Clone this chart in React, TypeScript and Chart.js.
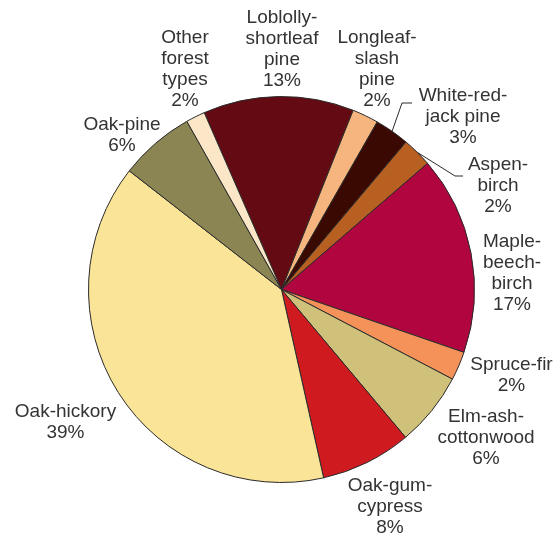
import React, { useEffect, useRef } from "react";
import { Chart, registerables } from "chart.js";

Chart.register(...registerables);

const categories: string[][] = [
  ["Loblolly-", "shortleaf", "pine"],
  ["Longleaf-", "slash", "pine"],
  ["White-red-", "jack pine"],
  ["Aspen-", "birch"],
  ["Maple-", "beech-", "birch"],
  ["Spruce-fir"],
  ["Elm-ash-", "cottonwood"],
  ["Oak-gum-", "cypress"],
  ["Oak-hickory"],
  ["Oak-pine"],
  ["Other", "forest", "types"],
];
const shares: number[] = [12.6, 2.2, 2.9, 2.5, 16.6, 2.4, 6.2, 7.6, 39.0, 6.3, 1.6];
const pctLabels: string[] = ["13%", "2%", "3%", "2%", "17%", "2%", "6%", "8%", "39%", "6%", "2%"];

const colors = [
  "#630a12",
  "#f6b47e",
  "#3a0a02",
  "#b85f22",
  "#b0053e",
  "#f4925a",
  "#cfc07a",
  "#cf1a20",
  "#fae498",
  "#8b8453",
  "#fbe6c7",
];

// label block placement relative to pie centre (first line centre)
const labelOffsets: [number, number][] = [
  [0.5, -271.5],
  [95.5, -252],
  [181.5, -194],
  [216.5, -124.5],
  [230.5, -47.5],
  [230, -124.5 + 200],
  [204.5, 127],
  [108.5, 196.5],
  [-216, 122],
  [-159.5, -164.5],
  [-96.5, -251.5],
];
// leader lines: index -> [elbow dx, elbow dy, end dx, end dy] relative to centre
const leaders: Record<number, [number, number, number, number]> = {
  2: [120.5, -186.5, 130.5, -186.5],
  3: [173.5, -113.5, 181.5, -113.5],
};

const labelPlugin = {
  id: "pieLabels",
  afterDraw(chart: any) {
    const meta = chart.getDatasetMeta(0);
    const ctx = chart.ctx as CanvasRenderingContext2D;
    ctx.save();
    ctx.font = "19px 'Liberation Sans', Arial, sans-serif";
    ctx.fillStyle = "#333333";
    ctx.textAlign = "center";
    ctx.textBaseline = "middle";
    const lh = 21;
    meta.data.forEach((arc: any, i: number) => {
      const cx = arc.x;
      const cy = arc.y;
      const lines = [...categories[i], pctLabels[i]];
      const [dx, dy] = labelOffsets[i];
      lines.forEach((t, k) => ctx.fillText(t, cx + dx, cy + dy + k * lh));
      const ld = leaders[i];
      if (ld) {
        const mid = (arc.startAngle + arc.endAngle) / 2;
        const r = arc.outerRadius;
        ctx.beginPath();
        ctx.strokeStyle = "#2a2a2a";
        ctx.lineWidth = 1;
        ctx.moveTo(cx + Math.cos(mid) * r, cy + Math.sin(mid) * r);
        ctx.lineTo(cx + ld[0], cy + ld[1]);
        ctx.lineTo(cx + ld[2], cy + ld[3]);
        ctx.stroke();
      }
    });
    ctx.restore();
  },
};

export default function App() {
  const ref = useRef<HTMLCanvasElement>(null);
  useEffect(() => {
    document.body.style.margin = "0";
    const chart = new Chart(ref.current!, {
      type: "pie",
      data: {
        labels: categories.map((c) => c.join(" ")),
        datasets: [
          {
            data: shares,
            backgroundColor: colors,
            borderColor: "#2a2a2a",
            borderWidth: 1,
          },
        ],
      },
      options: {
        animation: false,
        responsive: false,
        rotation: -23.6,
        layout: { padding: { left: 88, right: 84, top: 96, bottom: 55 } },
        plugins: { legend: { display: false }, tooltip: { enabled: false } },
      },
      plugins: [labelPlugin],
    });
    return () => chart.destroy();
  }, []);
  return (
    <div style={{ width: 559, height: 538, background: "#fff" }}>
      <canvas ref={ref} width={559} height={538} />
    </div>
  );
}
